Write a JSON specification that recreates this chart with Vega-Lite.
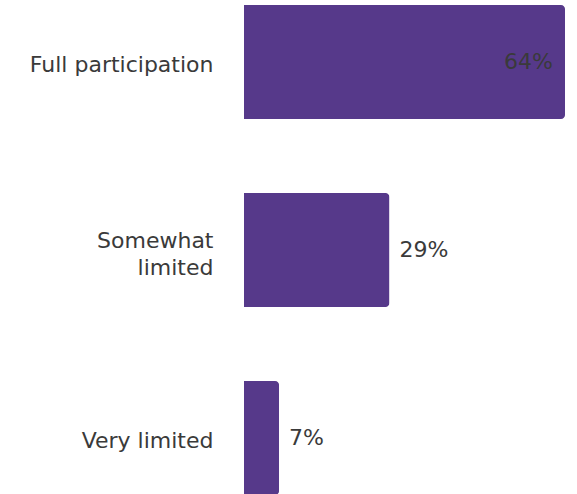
{
  "$schema": "https://vega.github.io/schema/vega-lite/v6.json",
  "autosize": {"type": "none"},
  "padding": {"left": 244, "top": 5, "right": 12, "bottom": 0},
  "width": 321,
  "height": 490,
  "background": "white",
  "config": {"view": {"stroke": null}, "font": "DejaVu Sans"},
  "data": {"values": [
    {"category": "Full participation", "value": 0.64},
    {"category": "Somewhat limited", "value": 0.29},
    {"category": "Very limited", "value": 0.07}
  ]},
  "encoding": {
    "y": {
      "field": "category", "type": "nominal", "sort": null,
      "scale": {"paddingInner": 0.394, "paddingOuter": 0},
      "axis": {
        "title": null, "domain": false, "ticks": false,
        "labelPadding": 31, "labelFontSize": 22, "labelColor": "#3a3a3a",
        "labelFont": "DejaVu Sans", "labelLineHeight": 27, "labelLimit": 300,
        "labelOffset": {"condition": {"test": "datum.value == 'Somewhat limited'", "value": -9}, "value": 3},
        "labelExpr": "datum.value == 'Somewhat limited' ? ['Somewhat', 'limited'] : datum.value"
      }
    },
    "x": {
      "field": "value", "type": "quantitative",
      "scale": {"domain": [0, 0.64], "nice": false},
      "axis": null
    }
  },
  "layer": [
    {"mark": {"type": "bar", "color": "#56398A", "cornerRadiusEnd": 4}},
    {
      "transform": [{"filter": "datum.value < 0.5"}],
      "mark": {"type": "text", "align": "left", "baseline": "middle", "dx": 10, "fontSize": 22, "color": "#3a3a3a"},
      "encoding": {"text": {"field": "value", "type": "quantitative", "format": ".0%"}}
    },
    {
      "transform": [{"filter": "datum.value >= 0.5"}],
      "mark": {"type": "text", "align": "right", "baseline": "middle", "dx": -12, "fontSize": 22, "color": "#3a3a3a"},
      "encoding": {"text": {"field": "value", "type": "quantitative", "format": ".0%"}}
    }
  ]
}
